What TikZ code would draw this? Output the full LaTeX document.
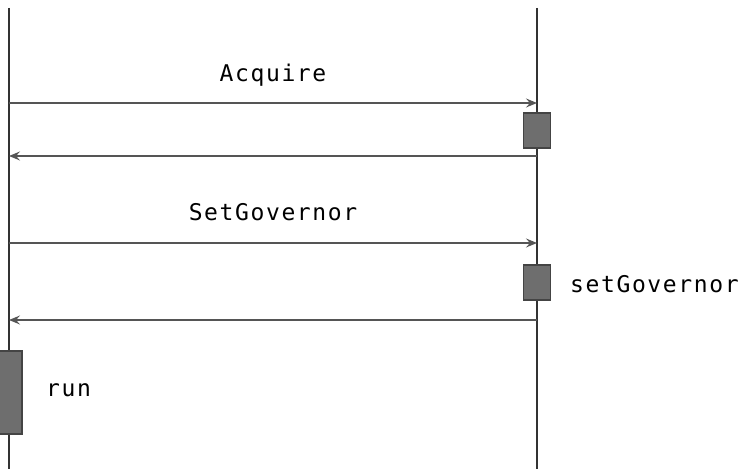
\documentclass[tikz,border=0pt]{standalone}
\usepackage{fontspec}
\setmonofont[LetterSpace=7]{DejaVu Sans Mono}
\usetikzlibrary{arrows.meta}
\definecolor{lifegray}{HTML}{333333}
\definecolor{msggray}{HTML}{555555}
\definecolor{actfill}{HTML}{6E6E6E}
\definecolor{actdraw}{HTML}{444444}
\tikzset{
  lifeline/.style={draw=lifegray, line width=1.6bp},
  msg/.style={draw=msggray, line width=1.4bp,
    -{Stealth[length=11bp,width=9bp,inset=4bp]}},
  activation/.style={draw=actdraw, fill=actfill, line width=1.2bp,
    minimum width=27bp, inner sep=0pt, outer sep=0pt},
  label/.style={font=\ttfamily\fontsize{23bp}{25bp}\selectfont, text=black,
    inner sep=0pt, anchor=base}
}
\begin{document}
\begin{tikzpicture}[x=1bp, y=-1bp]
  \useasboundingbox (0,0) rectangle (748,469);
  % lifelines
  \coordinate (Ltop) at (9,8);
  \coordinate (Lbot) at (9,469);
  \coordinate (Rtop) at (537,8);
  \coordinate (Rbot) at (537,469);
  \draw[lifeline] (Ltop) -- (Lbot);
  \draw[lifeline] (Rtop) -- (Rbot);
  % activations
  \node[activation, minimum height=35bp] (actA) at (537,130.5) {};
  \node[activation, minimum height=35bp] (actB) at (537,282.5) {};
  \node[activation, minimum width=24bp, minimum height=83bp] (actC) at (10,392.5) {};
  % message end points on the lifelines
  \coordinate (m1s) at (9,103);   \coordinate (m1e) at (537,103);
  \coordinate (r1s) at (537,156); \coordinate (r1e) at (9,156);
  \coordinate (m2s) at (9,243);   \coordinate (m2e) at (537,243);
  \coordinate (r2s) at (537,320); \coordinate (r2e) at (9,320);
  \draw[msg] (m1s) -- (m1e);
  \draw[msg] (r1s) -- (r1e);
  \draw[msg] (m2s) -- (m2e);
  \draw[msg] (r2s) -- (r2e);
  % labels
  \node[label] (lblA) at (273,82) {Acquire};
  \node[label] (lblB) at (273,221) {SetGovernor};
  \node[label, anchor=base west] (lblC) at (570,293) {setGovernor};
  \node[label, anchor=base west] (lblD) at (46,396) {run};
\end{tikzpicture}
\end{document}
